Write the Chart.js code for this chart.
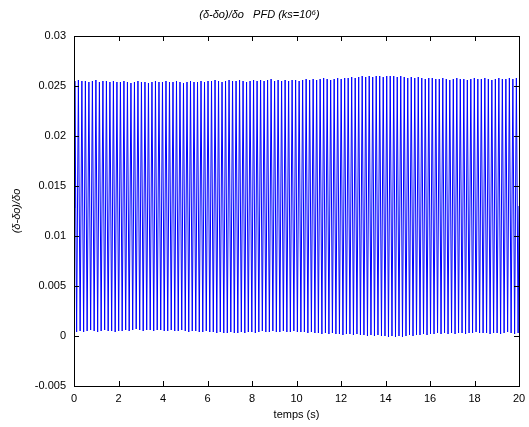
<!DOCTYPE html>
<html>
<head>
<meta charset="utf-8">
<script src="https://cdn.jsdelivr.net/npm/chart.js@4.4.1/dist/chart.umd.min.js"></script>
<style>
  html, body { margin: 0; padding: 0; background: #fff; }
  #wrap { width: 529px; height: 427px; }
</style>
</head>
<body>
<div id="wrap"><canvas id="chart" width="529" height="427"></canvas></div>
<script>
// x-axis ticks (s) and y-axis ticks
const xTicks = [0, 2, 4, 6, 8, 10, 12, 14, 16, 18, 20];
const yTicks = [-0.005, 0, 0.005, 0.01, 0.015, 0.02, 0.025, 0.03];

// start / end value of the trace
const startValue = 0.0128;
const endValue = 0.0130;

// crest of each oscillation, read along the top of the band
const crestValues = [
  0.0255, 0.0256, 0.0255, 0.0255, 0.0254, 0.0255, 0.0256, 0.0254, 0.0255, 0.0255, 0.0254, 0.0255, 0.0254,
  0.0254, 0.0255, 0.0254, 0.0253, 0.0254, 0.0255, 0.0254, 0.0254, 0.0253, 0.0254, 0.0255, 0.0254, 0.0254,
  0.0255, 0.0254, 0.0254, 0.0255, 0.0254, 0.0253, 0.0254, 0.0255, 0.0254, 0.0254, 0.0255, 0.0254, 0.0255,
  0.0255, 0.0256, 0.0255, 0.0254, 0.0255, 0.0256, 0.0255, 0.0255, 0.0256, 0.0255, 0.0254, 0.0255, 0.0256,
  0.0255, 0.0256, 0.0255, 0.0256, 0.0257, 0.0255, 0.0256, 0.0255, 0.0256, 0.0255, 0.0256, 0.0256, 0.0255,
  0.0256, 0.0257, 0.0256, 0.0257, 0.0256, 0.0257, 0.0258, 0.0257, 0.0256, 0.0257, 0.0258, 0.0257, 0.0258,
  0.0258, 0.0259, 0.0258, 0.0259, 0.0260, 0.0259, 0.0260, 0.0259, 0.0260, 0.0260, 0.0259, 0.0260, 0.0260,
  0.0260, 0.0259, 0.0260, 0.0259, 0.0258, 0.0259, 0.0258, 0.0259, 0.0258, 0.0257, 0.0258, 0.0258, 0.0257,
  0.0257, 0.0258, 0.0257, 0.0256, 0.0257, 0.0258, 0.0257, 0.0257, 0.0256, 0.0257, 0.0258, 0.0257, 0.0257,
  0.0258, 0.0257, 0.0256, 0.0257, 0.0258, 0.0257, 0.0257, 0.0258, 0.0257, 0.0258
];

// trough of each oscillation, read along the bottom of the band
const troughValues = [
  0.0004, 0.0005, 0.0004, 0.0005, 0.0006, 0.0005, 0.0004, 0.0005, 0.0006, 0.0005, 0.0005, 0.0004, 0.0005,
  0.0005, 0.0006, 0.0005, 0.0006, 0.0007, 0.0006, 0.0005, 0.0006, 0.0006, 0.0005, 0.0006, 0.0006, 0.0005,
  0.0005, 0.0006, 0.0005, 0.0005, 0.0006, 0.0005, 0.0004, 0.0005, 0.0005, 0.0004, 0.0004, 0.0005, 0.0004,
  0.0004, 0.0003, 0.0004, 0.0003, 0.0003, 0.0004, 0.0003, 0.0003, 0.0004, 0.0003, 0.0004, 0.0004, 0.0003,
  0.0004, 0.0005, 0.0004, 0.0004, 0.0005, 0.0004, 0.0004, 0.0005, 0.0004, 0.0004, 0.0005, 0.0004, 0.0004,
  0.0004, 0.0003, 0.0004, 0.0003, 0.0003, 0.0002, 0.0003, 0.0002, 0.0003, 0.0002, 0.0002, 0.0001, 0.0002,
  0.0002, 0.0001, 0.0002, 0.0001, 0.0001, 0.0000, 0.0001, 0.0000, 0.0001, 0.0000, 0.0000, -0.0001, 0.0000,
  -0.0001, 0.0000, -0.0001, 0.0000, 0.0001, 0.0000, 0.0001, 0.0001, 0.0002, 0.0001, 0.0002, 0.0002, 0.0003,
  0.0002, 0.0003, 0.0002, 0.0003, 0.0002, 0.0003, 0.0003, 0.0002, 0.0003, 0.0003, 0.0004, 0.0003, 0.0003,
  0.0003, 0.0002, 0.0003, 0.0003, 0.0002, 0.0003, 0.0004, 0.0003, 0.0002, 0.0003
];

const tMax = 20;
const period = tMax / crestValues.length;

const points = [{ x: 0, y: startValue }];
crestValues.forEach((top, i) => {
  points.push({ x: (i + 0.25) * period, y: top });
  points.push({ x: (i + 0.75) * period, y: troughValues[i] });
});
points.push({ x: tMax, y: endValue });

const FONT = 'Liberation Sans, Arial, Helvetica, sans-serif';

// MATLAB-style box with inward ticks on all four sides
const boxTicks = {
  id: 'boxTicks',
  afterDraw(chart) {
    const { ctx, chartArea: a, scales } = chart;
    const len = 5;
    ctx.save();
    ctx.strokeStyle = '#000';
    ctx.lineWidth = 1;
    ctx.beginPath();
    xTicks.forEach(v => {
      const px = Math.round(scales.x.getPixelForValue(v)) + 0.5;
      ctx.moveTo(px, a.bottom); ctx.lineTo(px, a.bottom - len);
      ctx.moveTo(px, a.top); ctx.lineTo(px, a.top + len);
    });
    yTicks.forEach(v => {
      const py = Math.round(scales.y.getPixelForValue(v)) + 0.5;
      ctx.moveTo(a.left, py); ctx.lineTo(a.left + len, py);
      ctx.moveTo(a.right, py); ctx.lineTo(a.right - len, py);
    });
    ctx.stroke();
    ctx.strokeRect(Math.round(a.left) + 0.5, Math.round(a.top) + 0.5,
      Math.round(a.right - a.left), Math.round(a.bottom - a.top));
    ctx.restore();
  }
};

new Chart(document.getElementById('chart'), {
  type: 'line',
  data: {
    datasets: [{
      data: points,
      borderColor: '#0000ff',
      borderWidth: 1,
      pointRadius: 0,
      tension: 0,
      fill: false
    }]
  },
  options: {
    responsive: false,
    animation: false,
    layout: { padding: { left: 0, right: 10, top: 0, bottom: 0 } },
    plugins: {
      legend: { display: false },
      tooltip: { enabled: false },
      title: {
        display: true,
        text: '(δ-δo)/δo   PFD (ks=10⁶)',
        color: '#000',
        font: { family: FONT, size: 11, style: 'italic', weight: 'normal' },
        padding: { top: 8, bottom: 14.8 }
      }
    },
    scales: {
      x: {
        type: 'linear',
        min: 0,
        max: 20,
        afterBuildTicks: s => { s.ticks = xTicks.map(v => ({ value: v })); },
        afterFit: s => { s.height = 41; s.paddingLeft = 0; s.paddingRight = 0; },
        grid: { display: false, drawTicks: false },
        border: { display: false },
        ticks: { color: '#000', font: { family: FONT, size: 11 }, padding: 6, maxRotation: 0 },
        title: {
          display: true,
          text: 'temps (s)',
          color: '#000',
          font: { family: FONT, size: 11 },
          padding: { top: 0, bottom: 5 }
        }
      },
      y: {
        type: 'linear',
        min: -0.005,
        max: 0.03,
        afterBuildTicks: s => { s.ticks = yTicks.map(v => ({ value: v })); },
        afterFit: s => { s.width = 74; },
        grid: { display: false, drawTicks: false },
        border: { display: false },
        ticks: {
          color: '#000',
          font: { family: FONT, size: 11 },
          padding: 8,
          callback: v => String(Number(v.toFixed(3)))
        },
        title: {
          display: true,
          text: '(δ-δo)/δo',
          color: '#000',
          font: { family: FONT, size: 11, style: 'italic' },
          padding: { top: 10, bottom: 0 }
        }
      }
    }
  },
  plugins: [boxTicks]
});
</script>
</body>
</html>
